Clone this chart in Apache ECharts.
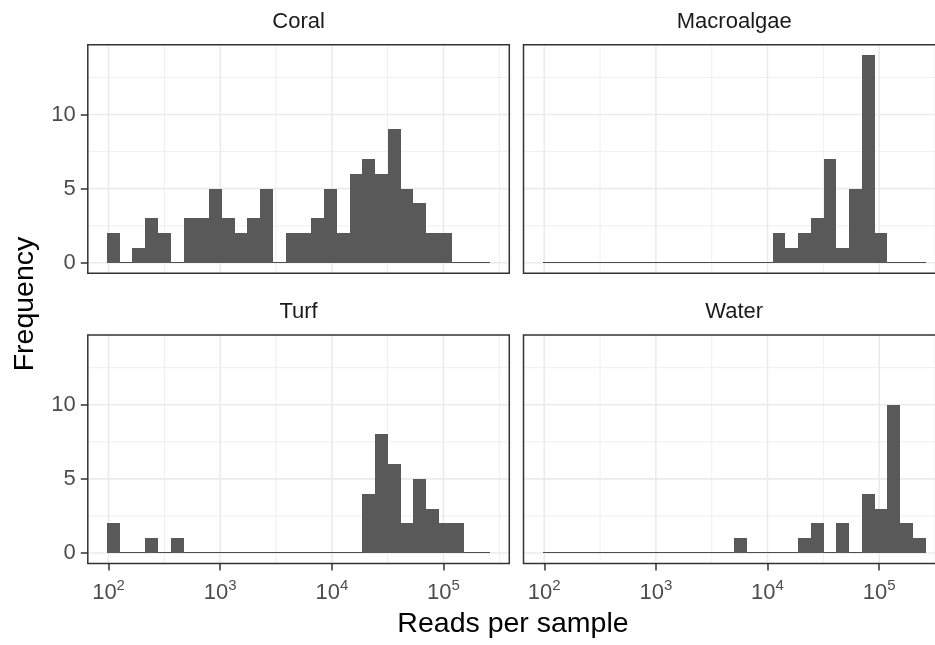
<!DOCTYPE html>
<html><head><meta charset="utf-8">
<script src="https://cdn.jsdelivr.net/npm/echarts@6/dist/echarts.min.js"></script>
<style>html,body{margin:0;padding:0;background:#fff;overflow:hidden;width:935px;height:645px}#c{width:960px;height:645px}</style>
</head><body><div id="c"></div>
<script>
// ---- data ----
// 30 equal-width histogram bins on log10(reads per sample)
const binStartLog10 = 1.9857;
const binWidthLog10 = 0.11438;
const facetNames = ['Coral', 'Macroalgae', 'Turf', 'Water'];
const coralCounts      = [2,0,1,3,2,0,3,3,5,3,2,3,5,0,2,2,3,5,2,6,7,6,9,5,4,2,2,0,0,0];
const macroalgaeCounts = [0,0,0,0,0,0,0,0,0,0,0,0,0,0,0,0,0,0,2,1,2,3,7,1,5,14,2,0,0,0];
const turfCounts       = [2,0,0,1,0,1,0,0,0,0,0,0,0,0,0,0,0,0,0,0,4,8,6,2,5,3,2,2,0,0];
const waterCounts      = [0,0,0,0,0,0,0,0,0,0,0,0,0,0,0,1,0,0,0,0,1,2,0,2,0,4,3,10,2,1];
const xTickExponents = [2, 3, 4, 5];
const xMinorBreaks = [2.5, 3.5, 4.5, 5.5];
const yTicks = [0, 5, 10];
const yMinorBreaks = [2.5, 7.5, 12.5];
const xTitle = 'Reads per sample';
const yTitle = 'Frequency';

// ---- layout / style ----
const FONT = 'Liberation Sans';
const X_MIN = 1.8141, X_MAX = 5.5897, Y_MIN = -0.7, Y_MAX = 14.7;
const PW = 421.5, PH = 228.4;
const panels = [
  {name: facetNames[0], counts: coralCounts,      left: 87.8,  top: 44.8, showY: true,  showX: false},
  {name: facetNames[1], counts: macroalgaeCounts, left: 523.5, top: 44.8, showY: false, showX: false},
  {name: facetNames[2], counts: turfCounts,       left: 87.8,  top: 335,  showY: true,  showX: true},
  {name: facetNames[3], counts: waterCounts,      left: 523.5, top: 335,  showY: false, showX: true}
];
const BAR = '#595959', GRID = '#EBEBEB', BORDER = '#333333', AXTXT = '#4D4D4D';

function seg(a, b, w) {
  return {type: 'line', shape: {x1: a[0], y1: a[1], x2: b[0], y2: b[1]},
          style: {stroke: GRID, lineWidth: w}};
}
function gridRender(params, api) {
  const ch = [];
  yMinorBreaks.forEach(v => ch.push(seg(api.coord([X_MIN, v]), api.coord([X_MAX, v]), 0.8)));
  xMinorBreaks.forEach(v => ch.push(seg(api.coord([v, Y_MIN]), api.coord([v, Y_MAX]), 0.8)));
  yTicks.forEach(v => ch.push(seg(api.coord([X_MIN, v]), api.coord([X_MAX, v]), 1.6)));
  xTickExponents.forEach(v => ch.push(seg(api.coord([v, Y_MIN]), api.coord([v, Y_MAX]), 1.6)));
  return {type: 'group', children: ch};
}
function barRender(params, api) {
  const x0 = api.value(0), x1 = api.value(1), n = api.value(2);
  const lo = api.coord([x0, 0]), hi = api.coord([x1, n]);
  const L = Math.round(lo[0]), R = Math.round(hi[0]), B = Math.round(lo[1]), T = Math.round(hi[1]);
  if (n === 0) {
    return {type: 'line', shape: {x1: L, y1: B - 0.5, x2: R, y2: B - 0.5},
            style: {stroke: '#4D4D4D', lineWidth: 1}};
  }
  return {type: 'rect', shape: {x: L, y: T, width: R - L, height: B - T},
          style: {fill: BAR}};
}
function borderRender(params, api) {
  const a = api.coord([X_MIN, Y_MAX]), b = api.coord([X_MAX, Y_MIN]);
  return {type: 'rect', shape: {x: a[0], y: a[1], width: b[0] - a[0], height: b[1] - a[1]},
          style: {fill: null, stroke: BORDER, lineWidth: 1.5}};
}

const grids = [], xAxes = [], yAxes = [], series = [], graphics = [];
panels.forEach((p, i) => {
  grids.push({left: p.left, top: p.top, width: PW, height: PH, containLabel: false});
  xAxes.push({
    type: 'value', gridIndex: i, min: X_MIN, max: X_MAX,
    axisLine: {show: false, onZero: false}, splitLine: {show: false},
    axisTick: {show: p.showX, length: 7, customValues: xTickExponents, lineStyle: {color: BORDER, width: 1.5}},
    axisLabel: {show: p.showX, customValues: xTickExponents, margin: 15,
      formatter: v => '{b|10}{s|' + Math.round(v) + '}',
      rich: {
        b: {fontSize: 22, lineHeight: 30, color: AXTXT, fontFamily: FONT},
        s: {fontSize: 15, lineHeight: 15, verticalAlign: 'top', color: AXTXT, fontFamily: FONT}
      }}
  });
  yAxes.push({
    type: 'value', gridIndex: i, min: Y_MIN, max: Y_MAX,
    axisLine: {show: false, onZero: false}, splitLine: {show: false},
    axisTick: {show: p.showY, length: 7, customValues: yTicks, lineStyle: {color: BORDER, width: 1.5}},
    axisLabel: {show: p.showY, customValues: yTicks, margin: 12, fontSize: 22, color: AXTXT, fontFamily: FONT}
  });
  const bins = p.counts.map((n, k) => [binStartLog10 + k * binWidthLog10, binStartLog10 + (k + 1) * binWidthLog10, n]);
  series.push({type: 'custom', xAxisIndex: i, yAxisIndex: i, z: 1, silent: true,
               data: [[X_MIN, Y_MIN]], renderItem: gridRender});
  series.push({type: 'custom', xAxisIndex: i, yAxisIndex: i, z: 2, silent: true,
               encode: {x: [0, 1], y: 2}, data: bins, renderItem: barRender});
  series.push({type: 'custom', xAxisIndex: i, yAxisIndex: i, z: 3, silent: true,
               data: [[X_MIN, Y_MIN]], renderItem: borderRender});
  graphics.push({type: 'text', x: p.left + PW / 2, y: p.top - 23.3,
    style: {text: p.name, fontSize: 22, fill: '#1A1A1A', fontFamily: FONT,
            textAlign: 'center', textVerticalAlign: 'middle'}});
});
graphics.push({type: 'text', x: 513, y: 624,
  style: {text: xTitle, fontSize: 28.5, fill: '#000', fontFamily: FONT, textAlign: 'center', textVerticalAlign: 'middle'}});
graphics.push({type: 'text', x: 25, y: 304, rotation: Math.PI / 2,
  style: {text: yTitle, fontSize: 28.5, fill: '#000', fontFamily: FONT, textAlign: 'center', textVerticalAlign: 'middle'}});

const chart = echarts.init(document.getElementById('c'), null, {renderer: 'canvas'});
chart.setOption({
  animation: false, backgroundColor: '#fff',
  textStyle: {fontFamily: FONT},
  grid: grids, xAxis: xAxes, yAxis: yAxes, series: series, graphic: graphics
});
</script></body></html>
